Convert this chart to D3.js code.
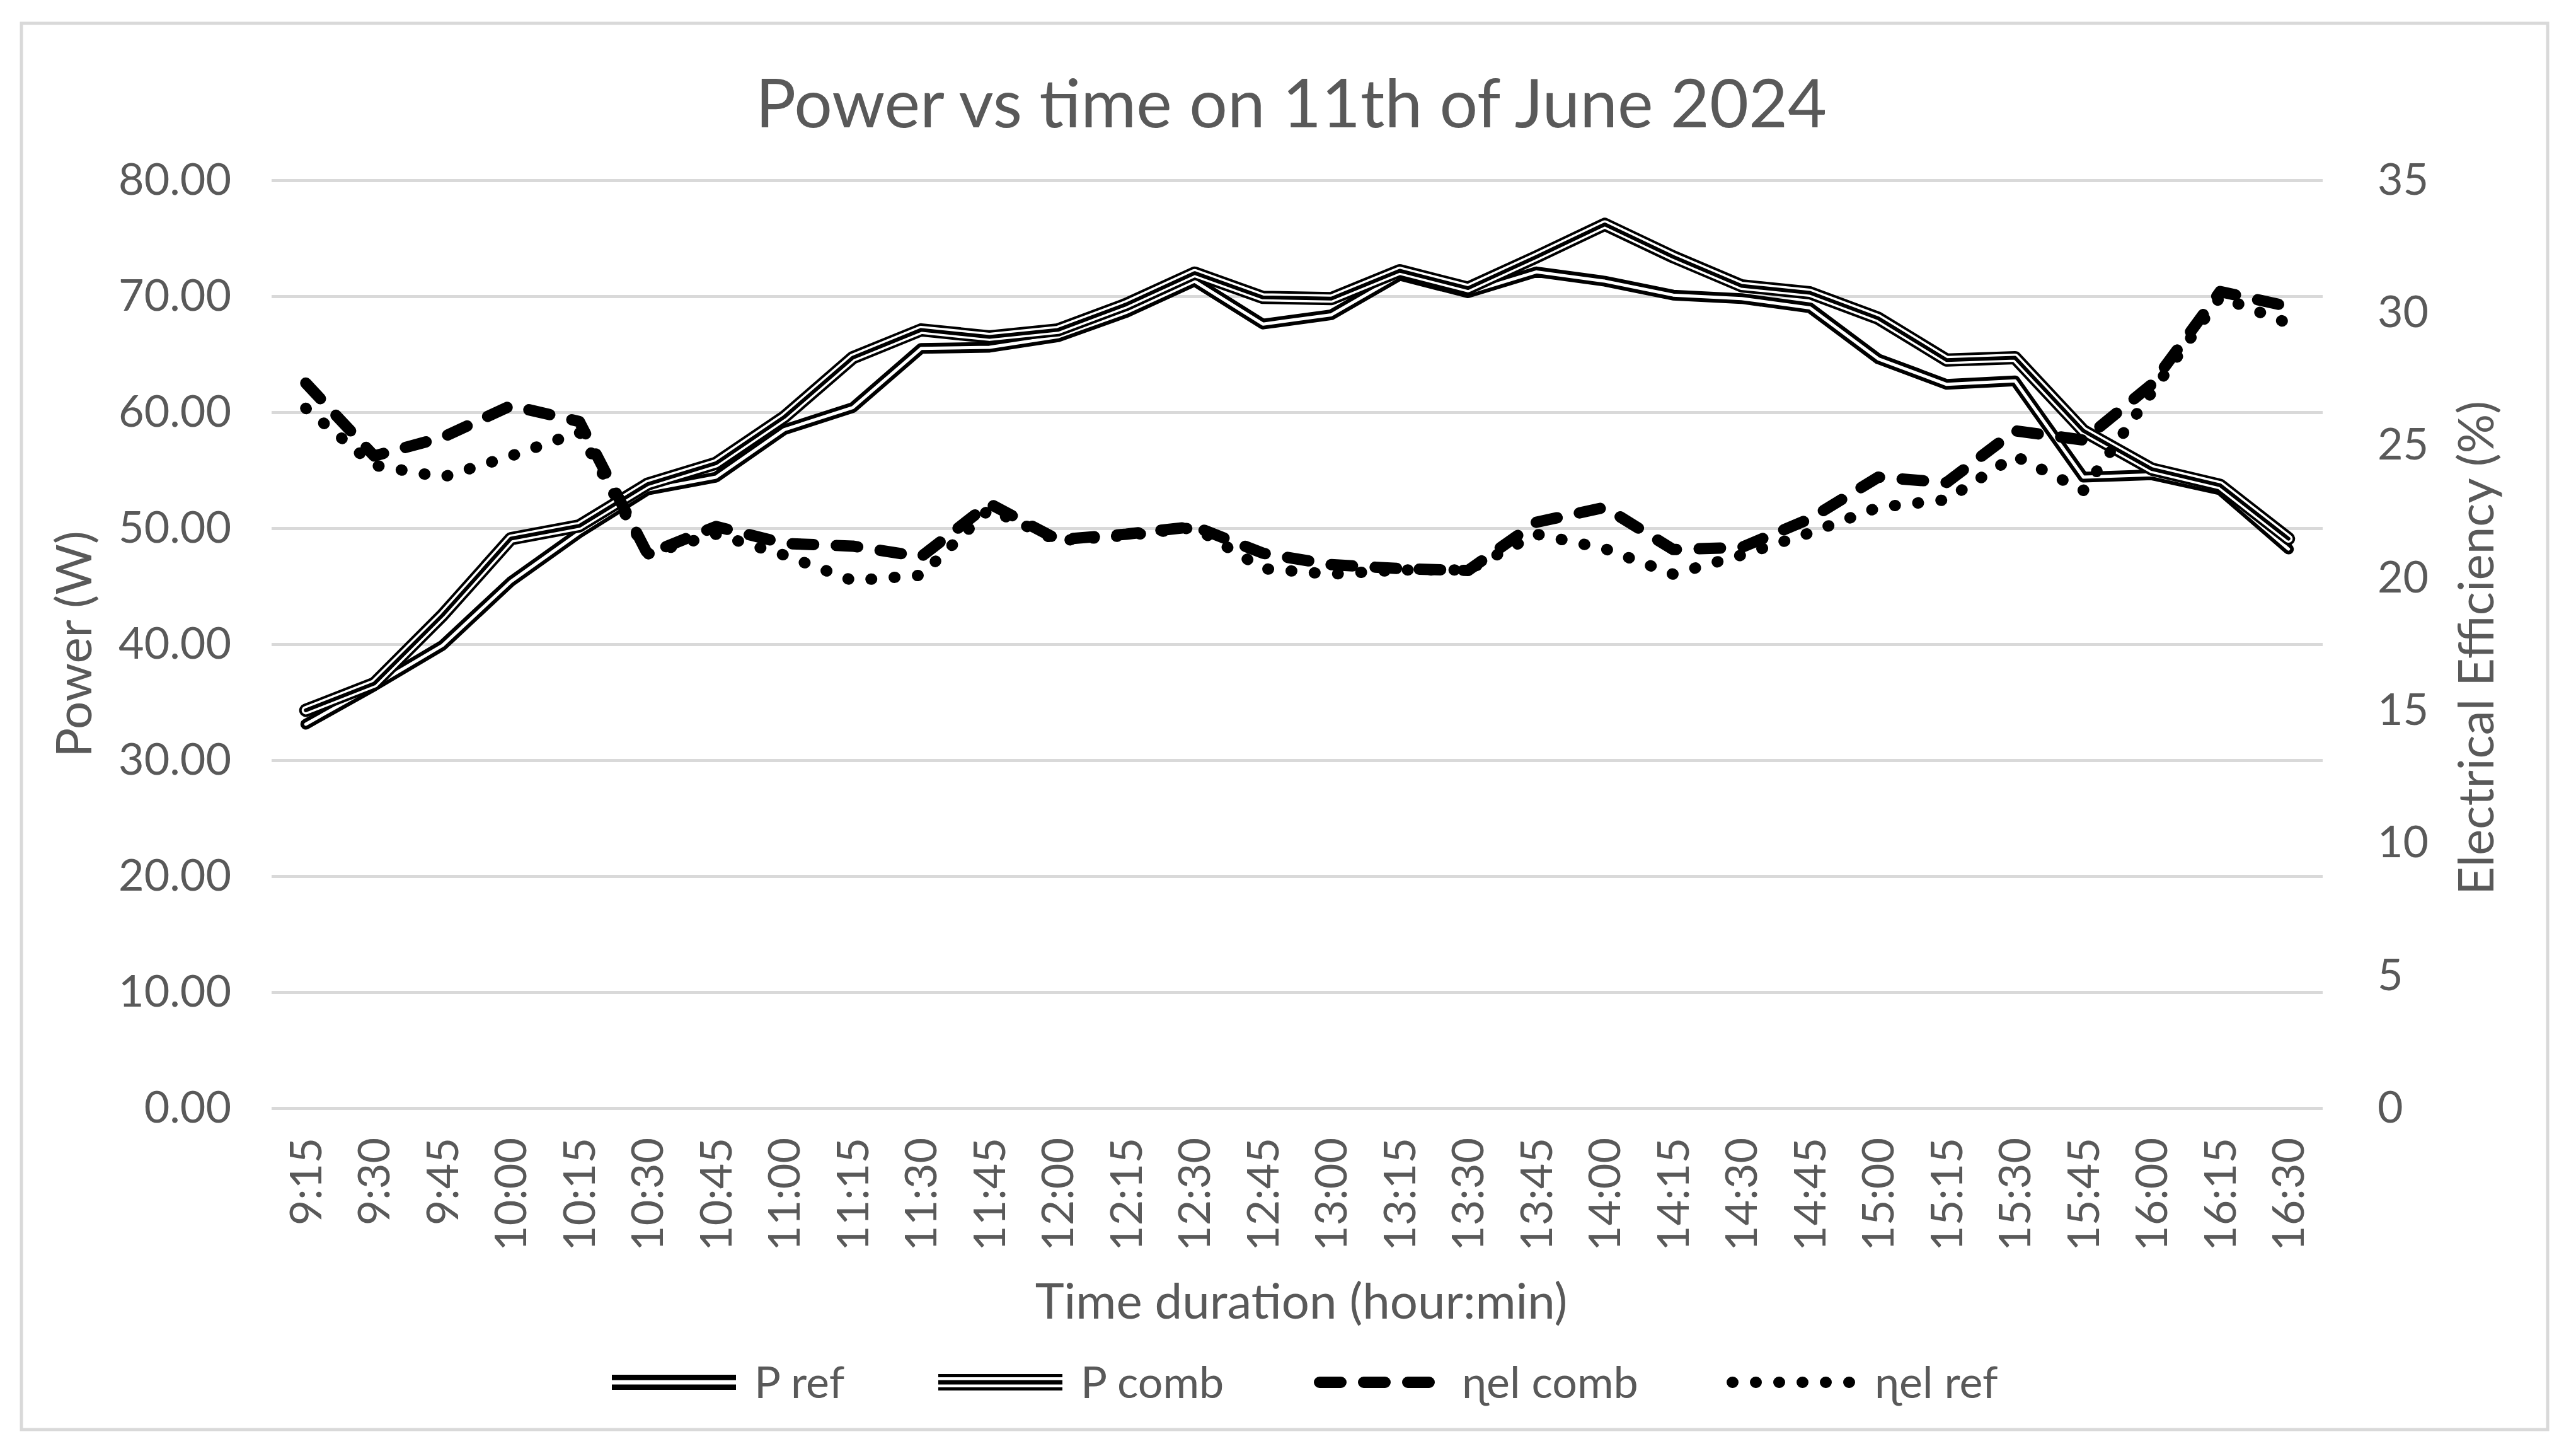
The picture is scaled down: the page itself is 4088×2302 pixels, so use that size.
<!DOCTYPE html>
<html>
<head>
<meta charset="utf-8">
<script src="https://cdn.jsdelivr.net/npm/d3@7/dist/d3.min.js"></script>
<style>
body { margin: 0; background: #fff; }
text { font-family: Lato, "Open Sans", sans-serif; fill: #595959; }
</style>
</head>
<body>
<script>
// data
var times = ["9:15","9:30","9:45","10:00","10:15","10:30","10:45","11:00","11:15","11:30",
  "11:45","12:00","12:15","12:30","12:45","13:00","13:15","13:30","13:45","14:00",
  "14:15","14:30","14:45","15:00","15:15","15:30","15:45","16:00","16:15","16:30"];
var pRef = [33.1, 36.4, 39.9, 45.4, 49.6, 53.3, 54.4, 58.5, 60.4, 65.5,
  65.6, 66.5, 68.6, 71.3, 67.6, 68.4, 71.8, 70.3, 72.1, 71.3,
  70.1, 69.8, 69.0, 64.6, 62.4, 62.7, 54.4, 54.6, 53.3, 48.2];
var pComb = [34.3, 36.6, 42.5, 49.1, 50.2, 53.8, 55.6, 59.6, 64.7, 67.1,
  66.5, 67.1, 69.3, 72.0, 69.9, 69.8, 72.2, 70.7, 73.4, 76.2,
  73.4, 70.9, 70.3, 68.1, 64.5, 64.7, 58.4, 55.1, 53.7, 49.1];
var effComb = [27.35, 24.6, 25.3, 26.5, 25.9, 20.9, 21.94, 21.3, 21.2, 20.8,
  22.8, 21.44, 21.65, 21.94, 20.93, 20.5, 20.35, 20.28, 22.1, 22.66,
  21.07, 21.15, 22.23, 23.8, 23.6, 25.55, 25.2, 27.3, 30.8, 30.24];
var effRef = [26.4, 24.25, 23.8, 24.6, 25.5, 20.9, 21.65, 20.86, 19.9, 20.1,
  22.6, 21.4, 21.6, 21.9, 20.35, 20.14, 20.3, 20.3, 21.65, 21.1,
  20.14, 20.86, 21.7, 22.66, 22.95, 24.6, 23.3, 27.0, 30.6, 29.6];
var powerTicks = [0, 10, 20, 30, 40, 50, 60, 70, 80];
var effTicks = [0, 5, 10, 15, 20, 25, 30, 35];
var seriesNames = ["P ref", "P comb", "ɳel comb", "ɳel ref"];

var chart = {};
chart.left = 431;
chart.right = 3686;
chart.top = 286;
chart.bottom = 1758;

chart.svg = d3.select("body").append("svg:svg").attr("width", 4088).attr("height", 2302);

chart.svg.append("rect")
  .attr("x", 34).attr("y", 37).attr("width", 4009).attr("height", 2231)
  .attr("fill", "#fff").attr("stroke", "#d9d9d9").attr("stroke-width", 5);

var x = d3.scaleBand().domain(times).range([chart.left, chart.right]);
var yP = d3.scaleLinear().domain([0, 80]).range([chart.bottom, chart.top]);
var yE = d3.scaleLinear().domain([0, 35]).range([chart.bottom, chart.top]);

// gridlines
chart.svg.append("g")
  .attr("transform", "translate(" + chart.left + ",0)")
  .call(d3.axisLeft(yP).tickValues(powerTicks).tickSize(-(chart.right - chart.left)).tickFormat(""))
  .call(function(g){ g.select(".domain").remove(); })
  .selectAll("line").attr("stroke", "#d9d9d9").attr("stroke-width", 5);

// left axis labels
chart.svg.append("g")
  .attr("transform", "translate(" + chart.left + ",0)")
  .call(d3.axisLeft(yP).tickValues(powerTicks).tickSize(0).tickPadding(64).tickFormat(d3.format(".2f")))
  .call(function(g){ g.select(".domain").remove(); })
  .selectAll("text").attr("font-size", 70).attr("fill", "#595959").attr("font-family", null);

// right axis labels
chart.svg.append("g")
  .attr("transform", "translate(" + chart.right + ",0)")
  .call(d3.axisRight(yE).tickValues(effTicks).tickSize(0).tickPadding(87))
  .call(function(g){ g.select(".domain").remove(); })
  .selectAll("text").attr("font-size", 70).attr("fill", "#595959").attr("font-family", null);

// category axis, labels turned upright
chart.svg.append("g")
  .attr("transform", "translate(0," + chart.bottom + ")")
  .call(d3.axisBottom(x).tickSize(0))
  .call(function(g){ g.select(".domain").remove(); })
  .selectAll("text")
  .attr("font-size", 70).attr("fill", "#595959").attr("font-family", null)
  .attr("text-anchor", "end")
  .attr("transform", "rotate(-90)")
  .attr("x", -47).attr("y", 0).attr("dy", "0.35em");

// titles
chart.svg.append("text").attr("x", 2049).attr("y", 165).attr("dy", "0.35em")
  .attr("text-anchor", "middle").attr("font-size", 107)
  .text("Power vs time on 11th of June 2024");
chart.svg.append("text").attr("x", 2065).attr("y", 2065).attr("dy", "0.35em")
  .attr("text-anchor", "middle").attr("font-size", 78)
  .text("Time duration (hour:min)");
chart.svg.append("text").attr("transform", "translate(118,1022) rotate(-90)").attr("dy", "0.35em")
  .attr("text-anchor", "middle").attr("font-size", 78)
  .text("Power (W)");
chart.svg.append("text").attr("transform", "translate(3930,1028) rotate(-90)").attr("dy", "0.35em")
  .attr("text-anchor", "middle").attr("font-size", 78)
  .text("Electrical Efficiency (%)");

var cx = function(d, i){ return x(times[i]) + x.bandwidth() / 2; };
var lineP = d3.line().x(cx).y(function(d){ return yP(d); });
var lineE = d3.line().x(cx).y(function(d){ return yE(d); });

// each series as a stack of strokes (double / triple compound lines)
var styles = [
  [{w: 17, c: "#000"}, {w: 5, c: "#fff"}],
  [{w: 21, c: "#000"}, {w: 13, c: "#fff"}, {w: 6, c: "#000"}],
  [{w: 18, c: "#000", dash: "34,36"}],
  [{w: 18, c: "#000", dash: "1,36"}]
];
var plotted = [lineP(pRef), lineP(pComb), lineE(effComb), lineE(effRef)];

plotted.forEach(function(path, k){
  styles[k].forEach(function(s){
    chart.svg.append("path").attr("d", path).attr("fill", "none")
      .attr("stroke", s.c).attr("stroke-width", s.w)
      .attr("stroke-linejoin", "round").attr("stroke-linecap", "round")
      .attr("stroke-dasharray", s.dash || null);
  });
});

// legend, icons a little heavier than the plotted lines
var legendX = [962, 1480, 2085, 2740];
var legendY = 2193;
var iconStyles = [
  [{w: 24, c: "#000"}, {w: 7, c: "#fff"}],
  [{w: 26, c: "#000"}, {w: 16, c: "#fff"}, {w: 7, c: "#000"}],
  styles[2],
  styles[3]
];
seriesNames.forEach(function(name, k){
  var x0 = legendX[k], x1 = x0 + 215;
  iconStyles[k].forEach(function(s){
    chart.svg.append("line").attr("x1", x0 + 9).attr("x2", x1 - 9)
      .attr("y1", legendY).attr("y2", legendY)
      .attr("stroke", s.c).attr("stroke-width", s.w)
      .attr("stroke-linecap", k < 2 ? "butt" : "round")
      .attr("stroke-dasharray", s.dash || null);
  });
  chart.svg.append("text").attr("x", x1 + 20).attr("y", legendY).attr("dy", "0.35em")
    .attr("font-size", 70).text(name);
});
</script>
</body>
</html>
